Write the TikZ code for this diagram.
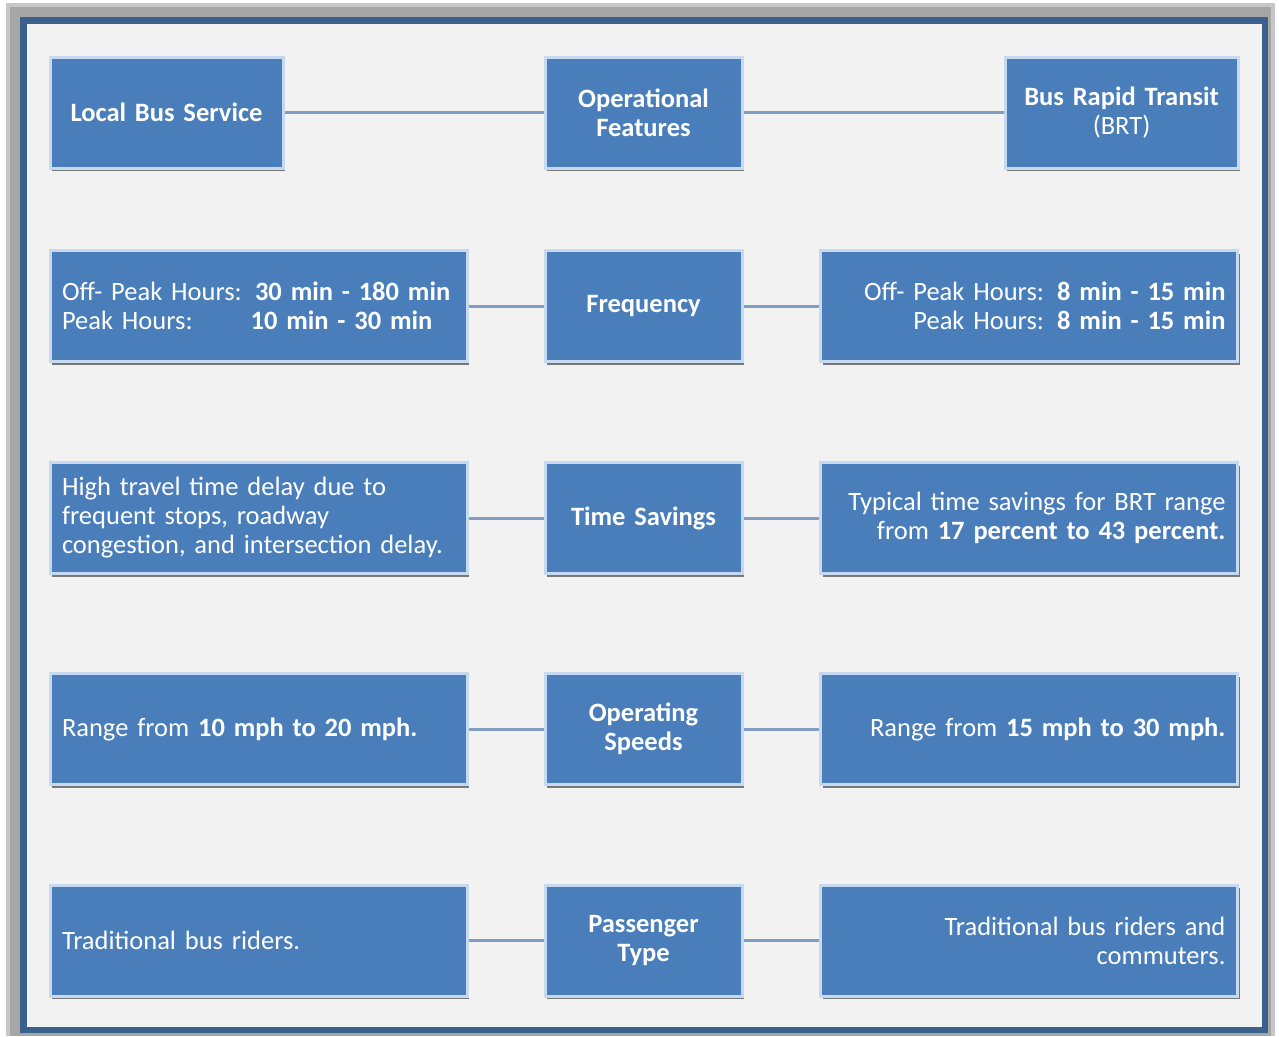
\documentclass[tikz,border=0pt]{standalone}
\usepackage{fontspec}
\setmainfont{Carlito}
\usetikzlibrary{shadows,shadows.blur}
\definecolor{boxblue}{RGB}{74,126,187}
\definecolor{boxedge}{RGB}{197,217,241}
\definecolor{framebl}{RGB}{58,96,142}
\definecolor{bgin}{RGB}{242,242,242}
\definecolor{linkc}{RGB}{128,158,196}
\tikzset{
  x=1pt,y=-1pt,
  box/.style={draw=boxedge,line width=3pt,fill=boxblue,text=white,
    inner xsep=12pt,inner ysep=0pt,minimum height=111pt,
    font=\fontsize{26.5}{29}\selectfont,
    drop shadow={shadow xshift=2pt,shadow yshift=-3pt,fill=black,opacity=.5}},
  midbox/.style={box,text width=173pt,align=center,font=\fontsize{26.5}{29}\selectfont\bfseries},
  sidebox/.style={box,text width=393pt},
  topbox/.style={box,text width=209pt,align=center,font=\fontsize{26.5}{29}\selectfont\bfseries},
  link/.style={draw=linkc,line width=3pt}
}
\begin{document}
\begin{tikzpicture}
\useasboundingbox (0,0) rectangle (1279,1036);
% frame
\fill[black!22] (6,3) rectangle (1275,1036);
\fill[black!35] (10,7) rectangle (1271,1036);
\fill[framebl] (20,17) rectangle (1268,1033);
\fill[bgin] (27,24) rectangle (1262,1027);
% row 1
\node[topbox] (l1) at (166.5,112.5) {Local Bus Service};
\node[midbox] (m1) at (643.5,112.5) {Operational\\Features};
\node[topbox] (r1) at (1121.5,112.5) {Bus Rapid Transit\\\mdseries(BRT)};
% row 2
\node[sidebox,align=left] (l2) at (258.5,306) {Off- Peak Hours: \textbf{30 min - 180 min}\\\mbox{\rlap{Peak Hours:}\phantom{Off- Peak Hours:} \textbf{10 min - 30 min}}};
\node[midbox] (m2) at (643.5,306) {Frequency};
\node[sidebox,align=right] (r2) at (1029,306) {Off- Peak Hours: \textbf{8 min - 15 min}\\Peak Hours: \textbf{8 min - 15 min}};
% row 3
\node[sidebox,align=left] (l3) at (258.5,518) {High travel time delay due to\\frequent stops, roadway\\congestion, and intersection delay.};
\node[midbox] (m3) at (643.5,518) {Time Savings};
\node[sidebox,align=right] (r3) at (1029,518) {Typical time savings for BRT range\\from \textbf{17 percent to 43 percent.}};
% row 4
\node[sidebox,align=left] (l4) at (258.5,729) {Range from \textbf{10 mph to 20 mph.}};
\node[midbox] (m4) at (643.5,729) {Operating\\Speeds};
\node[sidebox,align=right] (r4) at (1029,729) {Range from \textbf{15 mph to 30 mph.}};
% row 5
\node[sidebox,align=left] (l5) at (258.5,940.5) {Traditional bus riders.};
\node[midbox] (m5) at (643.5,940.5) {Passenger\\Type};
\node[sidebox,align=right] (r5) at (1029,940.5) {Traditional bus riders and\\commuters.};
% links
\foreach \i in {1,...,5}{
  \draw[link] (l\i.east) -- (m\i.west);
  \draw[link] (m\i.east) -- (r\i.west);
}
\end{tikzpicture}
\end{document}
